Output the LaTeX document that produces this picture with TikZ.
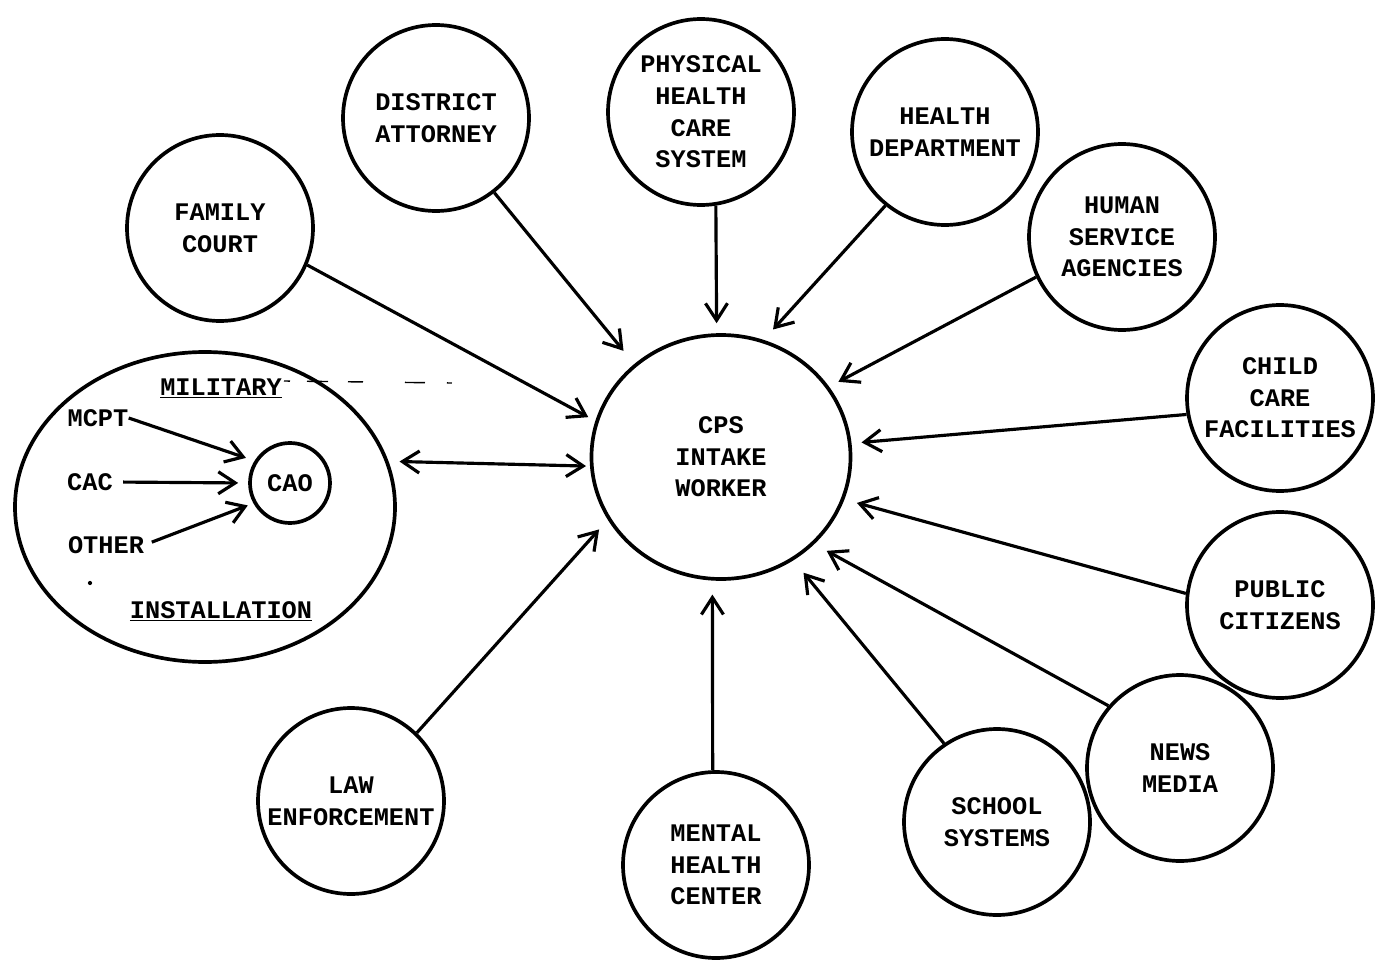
\documentclass[tikz,border=0pt]{standalone}
\usepackage{fontspec}
\setmainfont{Liberation Mono}
\usetikzlibrary{arrows.meta, shapes.geometric}

\begin{document}
\begin{tikzpicture}[x=0.2mm, y=-0.2mm,
    font=\bfseries\fontsize{14.4pt}{18pt}\selectfont,
    agency/.style={draw, circle, line width=2.1pt, minimum size=37.2mm, inner sep=0pt, align=center},
    tag/.style={inner sep=0pt},
    link/.style={line width=1.8pt, -{Straight Barb[length=3.4mm, width=4.4mm]}},
    twoway/.style={line width=1.8pt, {Straight Barb[length=3.4mm, width=4.4mm]}-{Straight Barb[length=3.4mm, width=4.4mm]}}]
    \useasboundingbox (0, 0) rectangle (1378, 964);

    \node [draw, ellipse, line width=2.1pt, minimum width=51.8mm, minimum height=48.8mm, align=center] (cps) at (721, 457) {CPS\\INTAKE\\WORKER};

    \node [agency] (court) at (220, 228) {FAMILY\\COURT};
    \node [agency] (da) at (436, 118) {DISTRICT\\ATTORNEY};
    \node [agency] (phys) at (701, 112) {PHYSICAL\\HEALTH\\CARE\\SYSTEM};
    \node [agency] (health) at (945, 132) {HEALTH\\DEPARTMENT};
    \node [agency] (human) at (1122, 237) {HUMAN\\SERVICE\\AGENCIES};
    \node [agency] (child) at (1280, 398) {CHILD\\CARE\\FACILITIES};
    \node [agency] (public) at (1280, 605) {PUBLIC\\CITIZENS};
    \node [agency] (news) at (1180, 768) {NEWS\\MEDIA};
    \node [agency] (school) at (997, 822) {SCHOOL\\SYSTEMS};
    \node [agency] (mental) at (716, 865) {MENTAL\\HEALTH\\CENTER};
    \node [agency] (law) at (351, 801) {LAW\\ENFORCEMENT};

    \node [draw, ellipse, line width=2.1pt, minimum width=76mm, minimum height=62mm] (mil) at (205, 507) {};
    \node [tag, anchor=base] (miltitle) at (221, 395) {\underline{MILITARY}};
    \node [tag, anchor=base] (inst) at (221, 618) {\underline{INSTALLATION}};
    \node [draw, circle, line width=2.1pt, minimum size=16mm, inner sep=0pt] (cao) at (290, 483) {CAO};
    \node [tag] (mcpt) at (98, 418) {MCPT};
    \node [tag] (cac) at (90, 482) {CAC};
    \node [tag] (other) at (106, 545) {OTHER};

    \draw [link, shorten >=1.8mm] (mcpt.east) to (cao.148);
    \draw [link, shorten <=2mm, shorten >=2mm] (cac.east) to (cao.180);
    \draw [link, shorten <=1.6mm, shorten >=1.2mm] (other.east) to (cao.209);

    \draw [line width=0.8pt, dash pattern=on 1.2mm off 3.4mm on 4.2mm off 4mm on 3mm off 8.4mm on 4mm off 4.4mm on 1mm] (284, 381) to (452, 383);
    \fill (90, 583) circle [radius=1.2pt];

    \draw [link, shorten >=1.6mm] (court.-23) to (cps.164);
    \draw [link, shorten >=3.4mm] (da.-52) to (cps.133.5);
    \draw [link, shorten >=2mm] (phys.-81) to (cps.92);
    \draw [link, shorten >=2.8mm] (health.-129) to (cps.70);
    \draw [link, shorten >=2.1mm] (human.205) to (cps.33);
    \draw [link, shorten >=2mm] (child.190) to (cps.6);
    \draw [link, shorten >=2.6mm] (public.173) to (cps.-19);
    \draw [link, shorten >=2.8mm] (news.139) to (cps.-43);
    \draw [link, shorten >=3.2mm] (school.124) to (cps.-55);
    \draw [link, shorten >=2.8mm] (mental.92) to (cps.-94);
    \draw [link, shorten >=2.6mm] (law.46) to (cps.209);
    \draw [twoway, shorten <=2.2mm, shorten >=0.8mm] (mil.14) to (cps.184);

  \end{tikzpicture}
\end{document}
